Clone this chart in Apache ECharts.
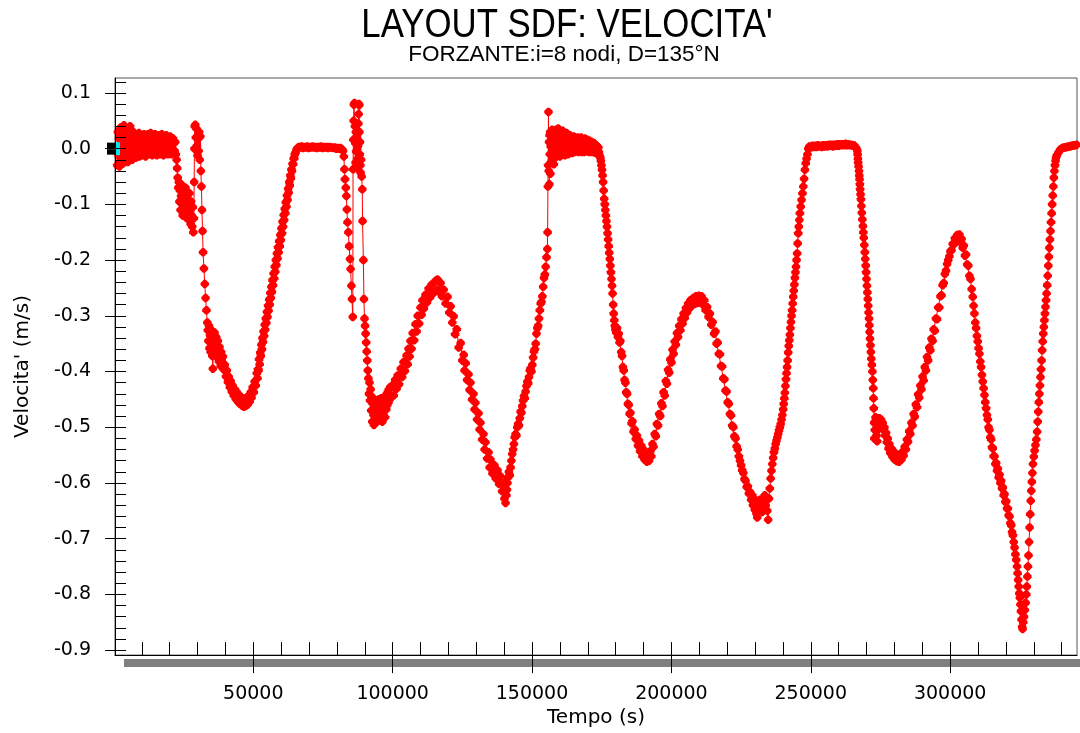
<!DOCTYPE html>
<html>
<head>
<meta charset="utf-8">
<title>LAYOUT SDF: VELOCITA'</title>
<script src="https://cdn.jsdelivr.net/npm/echarts@6/dist/echarts.min.js"></script>
<style>
  html, body { margin: 0; padding: 0; background: #ffffff; }
  #chart { width: 1080px; height: 733px; }
</style>
</head>
<body>
<div id="chart"></div>
<script>
// Velocity record, [time (s), velocity (m/s)], split by phase of the run.
const avvio = [
  [1000,0.000],[1200,-0.030],[1400,0.030],[1600,-0.012],[1800,0.018],[2000,-0.032],[2200,0.006],[2400,0.038],
  [2600,-0.020],[2800,0.012],[3000,-0.006],[3200,0.026],[3400,-0.026],[3600,0.042],[3800,0.004],[4000,-0.016],
  [4200,0.022],[4400,0.034],[4600,-0.010],[4800,0.010],[5000,-0.024],[5200,0.028],[5400,0.000],[5600,-0.014],
  [5800,0.040],[6000,0.016],[6200,-0.006],[6400,0.024],[6600,-0.020],[6800,0.008],[7000,0.030],[7200,-0.012],
  [7400,0.018],[7600,0.000],[7800,0.026],[8000,-0.016],[8200,0.012],[8400,0.022],[8600,-0.008],[8800,0.004],
  [9000,0.028],[9200,-0.014],[9400,0.016],[9600,-0.002],[9800,0.024],[10000,0.008],[10200,-0.012],[10400,0.020],
  [10600,0.002],[10800,0.026],[11000,-0.008],[11200,0.014],[11400,-0.014],[11600,0.022],[11800,0.006],[12000,-0.004],
  [12200,0.026],[12400,0.010],[12600,-0.010],[12800,0.018],[13000,0.002],[13200,0.028],[13400,-0.006],[13600,0.014],
  [13800,-0.012],[14000,0.022],[14200,0.004],[14400,0.016],[14600,-0.008],[14800,0.026],[15000,0.000],[15200,0.012],
  [15400,-0.012],[15600,0.020],[15800,0.006],[16000,-0.004],[16200,0.024],[16400,0.010],[16600,-0.010],[16800,0.018],
  [17000,0.002],[17200,0.026],[17400,-0.006],[17600,0.012],[17800,-0.012],[18000,0.020],[18200,0.004],[18400,0.016],
  [18600,-0.008],[18800,0.024],[19000,0.000],[19200,0.012],[19400,-0.010],[19600,0.020],[19800,0.006],[20000,-0.004],
  [20200,0.022],[20400,0.008],[20600,-0.010],[20800,0.016],[21000,0.000],[21200,0.018],[21400,-0.008],[21600,0.010],
  [21800,-0.004],[22000,0.012],[22200,-0.010]
];
const primoCalo = [
  [22500,-0.020],[22700,-0.035],[22900,-0.052],[23100,-0.070],[23300,-0.060],[23500,-0.095],[23700,-0.075],[23900,-0.110],
  [24100,-0.085],[24300,-0.065],[24500,-0.100],[24700,-0.120],[24900,-0.080],[25100,-0.105],[25300,-0.090],[25500,-0.115],
  [25700,-0.070],[25900,-0.098],[26100,-0.125],[26300,-0.085],[26500,-0.108],[26700,-0.092],[26900,-0.118],[27100,-0.080],
  [27300,-0.102],[27500,-0.135],[27700,-0.095],[27900,-0.120],[28100,-0.140],[28300,-0.105],[28500,-0.150],[28700,-0.125],
  [28800,-0.060],[28900,0.000],[29000,0.040],[29200,0.043],[29400,0.020],[29600,0.036],[29800,0.005],[30000,-0.012],
  [30200,0.018],[30400,-0.004],[30600,0.030],[30800,-0.020],[31000,0.022],[31200,-0.040],[31400,-0.068],[31600,-0.110],
  [31800,-0.148],[32000,-0.186],[32300,-0.215],[32600,-0.243],[32900,-0.268],[33200,-0.290],[33500,-0.312],[33700,-0.326],
  [33900,-0.345],[34100,-0.318],[34300,-0.358],[34500,-0.335],[34700,-0.365],[34900,-0.325],[35100,-0.350],[35300,-0.372],
  [35500,-0.395],[35700,-0.342],[35900,-0.360],[36100,-0.330],[36300,-0.352],[36500,-0.368],[36700,-0.338],[36900,-0.358],
  [37100,-0.375],[37300,-0.345],[37500,-0.362],[37700,-0.382],[37900,-0.356],[38100,-0.372],[38300,-0.390],[38500,-0.365],
  [38700,-0.378]
];
const primaValle = [
  [39100,-0.373],[39500,-0.397],[39800,-0.388],[40200,-0.409],[40500,-0.398],[40900,-0.419],[41200,-0.409],[41600,-0.428],
  [41900,-0.417],[42300,-0.436],[42600,-0.425],[43000,-0.443],[43400,-0.432],[43700,-0.449],[44100,-0.437],[44500,-0.454],
  [44800,-0.442],[45200,-0.458],[45500,-0.445],[45900,-0.461],[46200,-0.448],[46600,-0.463],[46900,-0.449],[47300,-0.462],
  [47700,-0.447],[48000,-0.459],[48400,-0.443],[48700,-0.454],[49100,-0.437],[49400,-0.447],[49800,-0.428],[50200,-0.437],
  [50500,-0.418],[50900,-0.425],[51300,-0.403],[51500,-0.412],[51700,-0.396],[51900,-0.398],[52100,-0.378],[52300,-0.387],
  [52500,-0.366],[52700,-0.372],[52900,-0.352],[53100,-0.360],[53300,-0.340],[53500,-0.347],[53700,-0.328],[53900,-0.336],
  [54100,-0.316],[54300,-0.325],[54500,-0.305],[54700,-0.313],[54900,-0.293],[55100,-0.302],[55300,-0.282],[55500,-0.291],
  [55700,-0.271],[55900,-0.280],[56100,-0.259],[56300,-0.268],[56500,-0.248],[56700,-0.257],[56900,-0.236],[57100,-0.245],
  [57300,-0.224],[57500,-0.233],[57700,-0.212],[57900,-0.221],[58100,-0.200],[58300,-0.209],[58500,-0.188],[58700,-0.197],
  [58900,-0.177],[59100,-0.186],[59300,-0.166],[59500,-0.175],[59700,-0.155],[59900,-0.164],[60100,-0.143],[60300,-0.152],
  [60500,-0.131],[60700,-0.140],[60900,-0.119],[61100,-0.128],[61300,-0.108],[61500,-0.116],[61700,-0.096],[61900,-0.104],
  [62100,-0.084],[62300,-0.092],[62500,-0.072],[62700,-0.079],[62900,-0.060],[63100,-0.066],[63300,-0.048],[63500,-0.053],
  [63700,-0.037],[63900,-0.040],[64100,-0.027],[64300,-0.028],[64500,-0.018],[64700,-0.017],[64900,-0.010],[65200,-0.007],
  [65500,-0.002],[65800,0.000],[66100,0.002],[66400,0.003]
];
const primoPiano = [
  [66800,0.002],[67300,0.004],[67800,0.001],[68300,0.003],[68800,0.002],[69300,0.004],[69800,0.001],[70300,0.003],
  [70800,0.002],[71300,0.004],[71800,0.002],[72300,0.003],[72800,0.001],[73300,0.003],[73800,0.002],[74300,0.004],
  [74800,0.001],[75300,0.003],[75800,0.002],[76300,0.003],[76800,0.001],[77300,0.003],[77800,0.002],[78300,0.002],
  [78800,0.001],[79300,0.002],[79800,0.000],[80300,0.001],[80800,0.000],[81300,0.001],[81800,-0.001],[82200,-0.004]
];
const secondoCalo = [
  [82500,-0.014],[82700,-0.037],[82900,-0.055],[83200,-0.070],[83400,-0.085],[83600,-0.109],[83800,-0.132],[84100,-0.150],
  [84400,-0.175],[84700,-0.198],[84900,-0.216],[85200,-0.246],[85400,-0.270],[85700,-0.302],[85800,-0.037],[85900,0.016],
  [86000,0.050],[86100,0.079],[86300,0.082],[86500,0.040],[86600,0.010],[86700,-0.025],[86800,0.030],[86900,-0.005],
  [87000,0.015],[87100,-0.035],[87200,0.022],[87300,0.000],[87400,-0.018],[87500,0.028],[87600,0.005],[87700,0.045],
  [87800,0.062],[87900,0.080],[88000,0.078],[88100,0.030],[88200,-0.010],[88300,0.012],[88400,-0.030],[88500,-0.043],
  [88700,-0.020],[88900,-0.050],[89100,-0.073],[89200,-0.130],[89500,-0.200],[89700,-0.270],[89900,-0.305]
];
const secondaValle = [
  [90100,-0.318],[90300,-0.332],[90500,-0.348],[90700,-0.364],[90900,-0.380],[91100,-0.398],[91300,-0.412],[91500,-0.440],
  [91700,-0.420],[91900,-0.452],[92100,-0.432],[92300,-0.470],[92500,-0.445],[92700,-0.490],[92900,-0.458],[93100,-0.478],
  [93300,-0.496],[93500,-0.462],[93700,-0.482],[93900,-0.452],[94100,-0.472],[94300,-0.490],[94500,-0.460],[94700,-0.480],
  [94900,-0.450],[95100,-0.470],[95300,-0.488],[95500,-0.458],[95700,-0.475],[95900,-0.448],[96100,-0.468],[96300,-0.490],
  [96500,-0.455],[96700,-0.478],[96900,-0.446],[97100,-0.465],[97300,-0.482],[97500,-0.450],[97700,-0.468],[97900,-0.440],
  [98100,-0.460],[98300,-0.436],[98500,-0.455],[98700,-0.432],[98900,-0.450],[99100,-0.428],[99300,-0.446]
];
const terzaValle = [
  [99800,-0.425],[100400,-0.443],[100900,-0.415],[101400,-0.431],[101800,-0.407],[102300,-0.423],[102900,-0.395],[103400,-0.410],
  [103900,-0.383],[104400,-0.399],[105000,-0.371],[105400,-0.387],[105700,-0.359],[106100,-0.373],[106400,-0.345],[106800,-0.359],
  [107200,-0.331],[107700,-0.344],[108200,-0.315],[108600,-0.328],[109000,-0.300],[109500,-0.314],[110000,-0.285],[110400,-0.298],
  [110700,-0.272],[111200,-0.287],[111800,-0.262],[112300,-0.276],[112900,-0.251],[113400,-0.267],[114000,-0.244],[114700,-0.259],
  [115400,-0.237],[115800,-0.254],[116100,-0.235],[116600,-0.256],[117200,-0.241],[117700,-0.265],[118300,-0.253],[119000,-0.278],
  [119700,-0.266],[120300,-0.294],[120800,-0.283],[121400,-0.312],[121900,-0.301],[122400,-0.333],[123000,-0.324],[123700,-0.357],
  [124400,-0.349],[125000,-0.380],[125500,-0.370],[125800,-0.398],[126200,-0.385],[126700,-0.415],[127200,-0.405],[127600,-0.433],
  [127900,-0.420],[128500,-0.450],[129000,-0.440],[129400,-0.468],[129700,-0.456],[130300,-0.486],[130800,-0.475],[131200,-0.504],
  [131500,-0.492],[132100,-0.522],[132600,-0.512],[133000,-0.540],[133300,-0.527],[133900,-0.556],[134400,-0.545],[134800,-0.572],
  [135100,-0.558],[135800,-0.583],[136500,-0.568],[137000,-0.592],[137600,-0.577],[138200,-0.602],[138700,-0.588],[139300,-0.615],
  [139800,-0.600],[140100,-0.628],[140500,-0.636],[140800,-0.622],[141000,-0.612],[141200,-0.600],[141400,-0.590],[141700,-0.580],
  [142000,-0.586],[142300,-0.572],[142600,-0.560],[142900,-0.548],[143200,-0.540],[143500,-0.530],[143800,-0.518],[144100,-0.512],
  [144400,-0.515],[144700,-0.500],[145000,-0.494],[145300,-0.497],[145600,-0.484],[145900,-0.472],[146200,-0.474],[146500,-0.462],
  [146800,-0.452],[147100,-0.444],[147400,-0.448],[147700,-0.436],[148000,-0.426],[148300,-0.418],[148600,-0.421],[148900,-0.410],
  [149200,-0.398],[149500,-0.394],[149800,-0.400],[150100,-0.388],[150400,-0.375],[150700,-0.364],[151000,-0.360],[151300,-0.350],
  [151600,-0.332],[151900,-0.322],[152200,-0.318],[152500,-0.305],[152800,-0.290],[153100,-0.278],[153400,-0.275],[153700,-0.265],
  [154000,-0.248],[154300,-0.232],[154600,-0.226],[154900,-0.212],[155200,-0.195],[155500,-0.180]
];
const secondoPiano = [
  [155600,-0.150],[155700,-0.068],[155800,-0.030],[155900,0.066],[156000,-0.040],[156100,0.012],[156200,-0.064],[156300,0.024],
  [156400,-0.010],[156500,0.030],[156600,-0.045],[156700,0.004],[156800,0.026],[157000,-0.022],[157200,0.034],[157400,-0.004],
  [157600,0.018],[157800,-0.028],[158000,0.030],[158200,0.008],[158400,-0.016],[158600,0.034],[158800,0.002],[159000,-0.012],
  [159200,0.024],[159400,0.036],[159600,-0.006],[159800,0.014],[160000,-0.014],[160200,0.030],[160400,0.004],[160600,0.022],
  [160800,-0.010],[161000,0.032],[161200,0.010],[161400,-0.004],[161600,0.026],[161800,-0.012],[162000,0.018],[162200,0.002],
  [162400,0.028],[162600,-0.008],[162800,0.014],[163000,-0.010],[163200,0.022],[163400,0.004],[163600,0.024],[163800,-0.006],
  [164000,0.012],[164200,0.020],[164400,-0.008],[164600,0.016],[164800,0.002],[165000,0.022],[165200,-0.006],[165400,0.010],
  [165600,0.018],[165800,-0.004],[166000,0.014],[166200,0.004],[166400,0.020],[166600,-0.006],[166800,0.010],[167000,0.016],
  [167200,-0.002],[167400,0.012],[167600,0.020],[167800,-0.006],[168000,0.008],[168200,0.016],[168400,0.000],[168600,0.012],
  [168800,-0.006],[169000,0.018],[169200,0.004],[169400,0.010],[169600,-0.004],[169800,0.016],[170000,0.002],[170200,0.012],
  [170400,-0.006],[170600,0.014],[170800,0.000],[171000,0.010],[171200,-0.006],[171400,0.012],[171600,0.002],[171800,0.008],
  [172000,-0.006],[172200,0.010],[172400,-0.002],[172600,0.008],[172800,-0.008],[173000,0.006],[173200,-0.004],[173400,0.004],
  [173600,-0.010],[173800,0.002],[174000,-0.006],[174200,-0.012]
];
const quartaValle = [
  [174500,-0.016],[174700,-0.022],[174900,-0.030],[175100,-0.038],[175300,-0.048],[175500,-0.060],[175700,-0.075],[175900,-0.090],
  [176100,-0.100],[176300,-0.110],[176500,-0.120],[176700,-0.130],[176900,-0.140],[177100,-0.152],[177300,-0.163],[177500,-0.175],
  [177700,-0.187],[177900,-0.198],[178100,-0.210],[178300,-0.222],[178500,-0.234],[178700,-0.246],[178900,-0.260],[179100,-0.280],
  [179300,-0.296],[179500,-0.308],[179700,-0.318],[179900,-0.324],[180200,-0.330],[180500,-0.322],[180800,-0.338],[181100,-0.332],
  [181400,-0.348],[181700,-0.345],[182000,-0.365],[182300,-0.372],[182600,-0.392],[182900,-0.398],[183200,-0.415],[183500,-0.420],
  [183800,-0.437],[184100,-0.440],[184400,-0.458],[184700,-0.460],[185000,-0.476],[185300,-0.474],[185700,-0.493],[186000,-0.489],
  [186400,-0.508],[186800,-0.504],[187200,-0.521],[187600,-0.515],[188000,-0.533],[188400,-0.524],[188800,-0.543],[189200,-0.533],
  [189600,-0.552],[190000,-0.540],[190400,-0.558],[190800,-0.545],[191200,-0.562],[191600,-0.548],[192000,-0.560],[192400,-0.543],
  [192800,-0.552],[193200,-0.530],[193600,-0.535],[194000,-0.512],[194400,-0.516],[194800,-0.494],[195200,-0.497],[195600,-0.476],
  [196000,-0.480],[196400,-0.457],[196800,-0.462],[197200,-0.437],[197600,-0.443],[198000,-0.417],[198400,-0.422],[198800,-0.397],
  [199200,-0.402],[199600,-0.378],[200000,-0.384],[200400,-0.361],[200800,-0.368],[201200,-0.346],[201600,-0.352],[202000,-0.331],
  [202400,-0.338],[202800,-0.318],[203200,-0.326],[203600,-0.306],[204000,-0.314],[204400,-0.296],[204800,-0.304],[205200,-0.286],
  [205600,-0.294],[206000,-0.278],[206400,-0.287],[206800,-0.272],[207300,-0.282],[207800,-0.268],[208300,-0.279],[208800,-0.265],
  [209300,-0.277],[209800,-0.264],[210300,-0.276],[210800,-0.265],[211300,-0.280],[211800,-0.272],[212300,-0.290],[212800,-0.284],
  [213300,-0.302],[213800,-0.296],[214300,-0.316],[214800,-0.311],[215300,-0.332],[215800,-0.328],[216200,-0.350],[216600,-0.348],
  [217000,-0.368],[217400,-0.369],[217800,-0.390],[218200,-0.391],[218600,-0.412],[219000,-0.414],[219400,-0.434],[219800,-0.436],
  [220200,-0.455],[220600,-0.458],[221000,-0.476],[221400,-0.479],[221800,-0.497],[222200,-0.500],[222600,-0.516],[223000,-0.520],
  [223400,-0.534],[223800,-0.540],[224200,-0.552],[224600,-0.560],[225000,-0.568],[225400,-0.577],[225800,-0.582],[226200,-0.593],
  [226600,-0.596],[227000,-0.607],[227400,-0.606],[227800,-0.619],[228200,-0.616],[228600,-0.630],[229000,-0.622],[229300,-0.640],
  [229600,-0.628],[229900,-0.648],[230200,-0.632],[230500,-0.655],[230800,-0.662],[231100,-0.638],[231400,-0.650],[231700,-0.630],
  [232000,-0.645],[232300,-0.635],[232600,-0.652],[232900,-0.628],[233200,-0.642],[233500,-0.622],[233800,-0.640],[234100,-0.630],
  [234400,-0.650],[234700,-0.666],[235000,-0.628],[235300,-0.610],[235600,-0.592],[235900,-0.578],[236200,-0.566],[236500,-0.555],
  [236800,-0.545],[237100,-0.538],[237400,-0.530],[237700,-0.524],[238000,-0.518],[238300,-0.512],[238600,-0.506],[238900,-0.500],
  [239200,-0.494],[239500,-0.486],[239800,-0.478],[240100,-0.468],[240300,-0.458],[240500,-0.448],[240700,-0.438],[240900,-0.426],
  [241100,-0.414],[241300,-0.403],[241500,-0.392],[241700,-0.380],[241900,-0.366],[242100,-0.354],[242300,-0.344],[242500,-0.334],
  [242700,-0.322],[242900,-0.311],[243100,-0.300],[243300,-0.290],[243500,-0.278],[243700,-0.266],[243900,-0.255],[244100,-0.244],
  [244300,-0.232],[244500,-0.222],[244700,-0.212],[244900,-0.200],[245100,-0.188],[245300,-0.170],[245500,-0.152],[245700,-0.140],
  [245900,-0.128],[246100,-0.116],[246400,-0.104],[246700,-0.092],[247000,-0.080],[247300,-0.068],[247600,-0.054],[247900,-0.038],
  [248200,-0.026],[248500,-0.018],[248800,-0.010],[249100,0.000]
];
const terzoPiano = [
  [249500,0.004],[250000,0.002],[250500,0.005],[251000,0.003],[251500,0.005],[252000,0.003],[252500,0.006],[253000,0.004],
  [253500,0.005],[254000,0.003],[254500,0.006],[255000,0.004],[255500,0.006],[256000,0.004],[256500,0.007],[257000,0.005],
  [257500,0.007],[258000,0.004],[258500,0.007],[259000,0.005],[259500,0.008],[260000,0.005],[260500,0.008],[261000,0.006],
  [261500,0.008],[262000,0.006],[262500,0.009],[263000,0.006],[263500,0.008],[264000,0.006],[264500,0.007],[265000,0.005],
  [265500,0.006],[266000,0.003],[266400,0.000]
];
const ultimaParte = [
  [266700,-0.004],[266800,-0.010],[266900,-0.018],[267000,-0.025],[267150,-0.032],[267300,-0.040],[267400,-0.048],[267500,-0.055],
  [267600,-0.064],[267700,-0.073],[267850,-0.082],[268000,-0.091],[268150,-0.103],[268300,-0.115],[268500,-0.127],[268700,-0.139],
  [268850,-0.150],[269000,-0.160],[269200,-0.173],[269400,-0.186],[269550,-0.198],[269700,-0.210],[269850,-0.222],[270000,-0.234],
  [270150,-0.246],[270300,-0.258],[270450,-0.270],[270600,-0.282],[270750,-0.294],[270900,-0.305],[271000,-0.317],[271100,-0.329],
  [271250,-0.341],[271400,-0.353],[271550,-0.365],[271700,-0.377],[271900,-0.388],[272100,-0.400],[272250,-0.415],[272400,-0.430],
  [272500,-0.448],[272600,-0.466],[272700,-0.492],[272800,-0.520],[272950,-0.505],[273100,-0.490],[273250,-0.482],[273400,-0.492],
  [273600,-0.515],[273800,-0.525],[274000,-0.505],[274300,-0.488],[274600,-0.484],[274900,-0.490],[275200,-0.486],[275500,-0.496],
  [275800,-0.492],[276100,-0.505],[276400,-0.500],[276700,-0.515],[277000,-0.510],[277300,-0.527],[277600,-0.520],[277900,-0.538],
  [278200,-0.530],[278500,-0.546],[278900,-0.538],[279300,-0.553],[279700,-0.543],[280100,-0.558],[280500,-0.548],[280900,-0.561],
  [281300,-0.550],[281700,-0.562],[282100,-0.550],[282500,-0.558],[282900,-0.544],[283300,-0.551],[283700,-0.535],[284100,-0.540],
  [284500,-0.522],[284900,-0.526],[285300,-0.507],[285700,-0.512],[286100,-0.492],[286500,-0.497],[286900,-0.476],[287300,-0.481],
  [287700,-0.459],[288100,-0.464],[288500,-0.441],[288900,-0.447],[289300,-0.425],[289700,-0.432],[290100,-0.409],[290500,-0.416],
  [290900,-0.392],[291300,-0.398],[291700,-0.374],[292100,-0.380],[292500,-0.357],[292900,-0.362],[293300,-0.341],[293700,-0.345],
  [294100,-0.324],[294500,-0.327],[294900,-0.305],[295300,-0.306],[295700,-0.285],[296100,-0.285],[296500,-0.265],[296900,-0.263],
  [297300,-0.245],[297700,-0.241],[298100,-0.225],[298500,-0.219],[298900,-0.207],[299300,-0.200],[299700,-0.193],[300100,-0.184],
  [300500,-0.182],[300900,-0.171],[301300,-0.172],[301700,-0.161],[302100,-0.166],[302500,-0.155],[302900,-0.163],[303300,-0.154],
  [303700,-0.168],[304100,-0.162],[304500,-0.178],[304900,-0.174],[305300,-0.192],[305700,-0.190],[306100,-0.208],[306500,-0.210],
  [306900,-0.228],[307300,-0.234],[307700,-0.252],[308100,-0.266],[308400,-0.282],[308700,-0.296],[309000,-0.312],[309300,-0.322],
  [309600,-0.336],[309900,-0.346],[310200,-0.358],[310500,-0.368],[310800,-0.382],[311100,-0.392],[311400,-0.406],[311700,-0.418],
  [312000,-0.430],[312300,-0.442],[312600,-0.455],[312900,-0.466],[313200,-0.478],[313500,-0.486],[313800,-0.500],[314100,-0.505],
  [314400,-0.518],[314700,-0.522],[315000,-0.536],[315300,-0.538],[315600,-0.552],[315900,-0.552],[316200,-0.566],[316500,-0.564],
  [316800,-0.578],[317100,-0.574],[317400,-0.590],[317700,-0.585],[318000,-0.600],[318300,-0.596],[318600,-0.610],[318900,-0.608],
  [319200,-0.622],[319500,-0.620],[319800,-0.634],[320100,-0.633],[320400,-0.646],[320700,-0.646],[321000,-0.658],[321300,-0.660],
  [321600,-0.672],[321900,-0.676],[322200,-0.688],[322500,-0.694],[322800,-0.706],[323100,-0.716],[323400,-0.728],[323700,-0.738],
  [324000,-0.750],[324200,-0.762],[324400,-0.774],[324600,-0.786],[324800,-0.798],[325000,-0.806],[325200,-0.818],[325400,-0.830],
  [325600,-0.845],[325800,-0.858],[326000,-0.862],[326200,-0.850],[326500,-0.840],[326800,-0.828],[327100,-0.815],[327300,-0.800],
  [327500,-0.786],[327700,-0.768],[327900,-0.750],[328100,-0.730],[328300,-0.706],[328500,-0.680],[328700,-0.656],[328900,-0.632],
  [329100,-0.614],[329300,-0.598],[329500,-0.582],[329700,-0.566],[330000,-0.553],[330300,-0.542],[330600,-0.532],[330900,-0.522],
  [331200,-0.508],[331400,-0.490],[331600,-0.472],[331800,-0.455],[332000,-0.440],[332200,-0.425],[332400,-0.410],[332600,-0.396],
  [332800,-0.380],[333000,-0.362],[333200,-0.346],[333400,-0.332],[333600,-0.320],[333800,-0.308],[334000,-0.296],[334200,-0.284],
  [334400,-0.272],[334600,-0.260],[334800,-0.245],[335000,-0.228],[335200,-0.210],[335400,-0.194],[335600,-0.178],[335800,-0.163],
  [336000,-0.148],[336200,-0.132],[336400,-0.116],[336600,-0.100],[336800,-0.084],[337000,-0.068],[337200,-0.052],[337400,-0.040],
  [337600,-0.030],[337800,-0.022],[338000,-0.016],[338300,-0.012],[338800,-0.007],[339400,-0.002],[339900,0.000],[340300,0.001],
  [340800,0.002],[341200,0.002],[341700,0.003],[342100,0.003],[342600,0.004],[343000,0.004],[343500,0.005],[344000,0.005],
  [344500,0.006],[345000,0.006],[345400,0.007]
];

// Axis ticks: labelled values and the 10000 s / 0.02 m/s minor steps.
const tempoEtichette = [50000, 100000, 150000, 200000, 250000, 300000];
const velocitaEtichette = [0.1, 0.0, -0.1, -0.2, -0.3, -0.4, -0.5, -0.6, -0.7, -0.8, -0.9];

const tempoMinori = [];
for (let k = 1; k <= 34; k++) tempoMinori.push(k * 10000);
const velocitaMinori = [];
for (let k = -45; k <= 6; k++) velocitaMinori.push(+(k * 0.02).toFixed(2));

const serie = [].concat(avvio, primoCalo, primaValle, primoPiano, secondoCalo, secondaValle,
  terzaValle, secondoPiano, quartaValle, terzoPiano, ultimaParte);

const FONT = 'DejaVu Sans';
const chart = echarts.init(document.getElementById('chart'), null, { renderer: 'canvas' });

chart.setOption({
  animation: false,
  backgroundColor: '#ffffff',
  graphic: [
    { type: 'text', x: 567, y: 6, z: 10, scaleX: 0.87,
      style: { text: "LAYOUT SDF: VELOCITA'", textAlign: 'center', textVerticalAlign: 'top',
               font: '40px "Liberation Sans", Arial, sans-serif', fill: '#000' } },
    { type: 'text', x: 564, y: 43, z: 10,
      style: { text: 'FORZANTE:i=8 nodi, D=135°N', textAlign: 'center', textVerticalAlign: 'top',
               font: '22.5px "Liberation Sans", Arial, sans-serif', fill: '#000' } },
    // shadow band under the time axis
    { type: 'rect', z: -1, shape: { x: 124, y: 659, width: 956, height: 8 }, style: { fill: '#808080' } }
  ],
  grid: { left: 115, right: 3, top: 78, bottom: 75, show: true, borderColor: '#555', borderWidth: 1,
          backgroundColor: 'transparent' },
  xAxis: [
    { type: 'value', min: 400, max: 345500, position: 'bottom', z: 5,
      name: 'Tempo (s)', nameLocation: 'middle', nameGap: 52,
      nameTextStyle: { fontFamily: FONT, fontSize: 20, color: '#000' },
      axisLine: { onZero: false, lineStyle: { color: '#000', width: 1 } },
      axisTick: { customValues: tempoEtichette, length: 18, inside: false, lineStyle: { color: '#000' } },
      axisLabel: { customValues: tempoEtichette, margin: 29, fontFamily: FONT, fontSize: 19, color: '#000',
                   formatter: v => String(v) },
      splitLine: { show: false } },
    { type: 'value', min: 400, max: 345500, position: 'bottom', z: 5,
      axisLine: { show: false, onZero: false },
      axisTick: { customValues: tempoMinori, length: 13, inside: true, lineStyle: { color: '#000' } },
      axisLabel: { show: false }, splitLine: { show: false } }
  ],
  yAxis: [
    { type: 'value', min: -0.9089, max: 0.1268, position: 'left', z: 5,
      name: "Velocita' (m/s)", nameLocation: 'middle', nameGap: 82,
      nameTextStyle: { fontFamily: FONT, fontSize: 20, color: '#000' },
      axisLine: { onZero: false, lineStyle: { color: '#000', width: 1 } },
      axisTick: { customValues: velocitaEtichette, length: 10, inside: false, lineStyle: { color: '#000' } },
      axisLabel: { customValues: velocitaEtichette, margin: 24, fontFamily: FONT, fontSize: 19, color: '#000',
                   formatter: v => (Math.abs(v) < 1e-9 ? 0 : v).toFixed(1) },
      splitLine: { show: false } },
    { type: 'value', min: -0.9089, max: 0.1268, position: 'left', z: 5,
      axisLine: { show: false, onZero: false },
      axisTick: { customValues: velocitaMinori, length: 11, inside: true, lineStyle: { color: '#000' } },
      axisLabel: { show: false }, splitLine: { show: false } }
  ],
  series: [{
    type: 'line',
    xAxisIndex: 0, yAxisIndex: 0,
    data: serie,
    symbol: 'path://M3,0H5L8,3V5L5,8H3L0,5V3Z', symbolSize: 8.5, showAllSymbol: true,
    itemStyle: { color: '#ff0000' },
    lineStyle: { color: '#ff0000', width: 1 },
    markPoint: {
      silent: true, label: { show: false },
      data: [
        { coord: [400, 0], symbol: 'rect', symbolSize: [8, 12], symbolOffset: [-4, 0], itemStyle: { color: '#000' } },
        { coord: [400, 0], symbol: 'rect', symbolSize: [8, 1], symbolOffset: [-4, 0], itemStyle: { color: '#fff' } },
        { coord: [400, 0], symbol: 'rect', symbolSize: [5, 13], symbolOffset: [2.5, 0], itemStyle: { color: '#00e8f0' } }
      ]
    }
  }]
});
</script>
</body>
</html>
